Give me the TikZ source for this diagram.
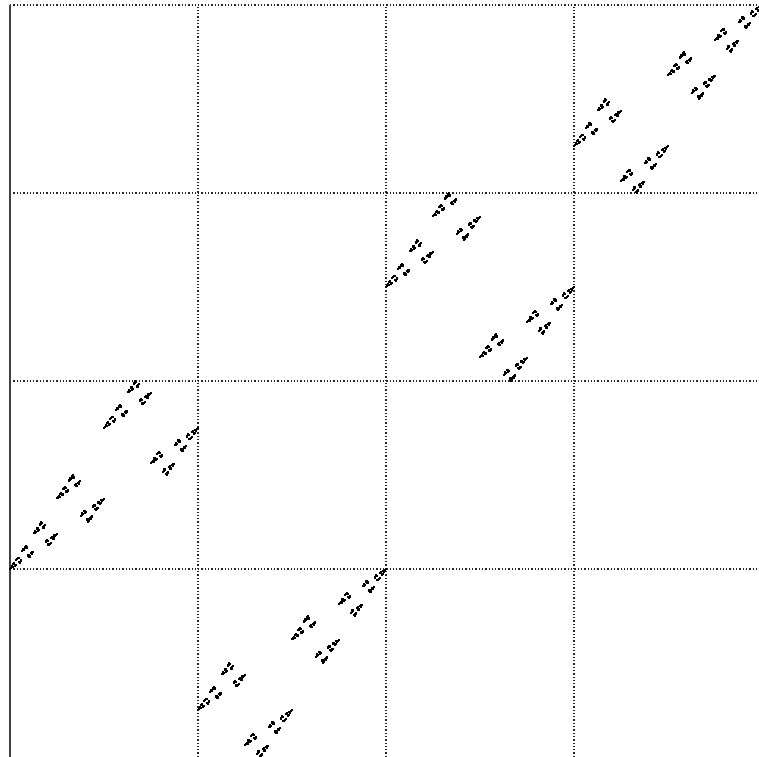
\documentclass[tikz,border=0pt]{standalone}
\tikzset{
  gridline/.style={line width=1.2pt, dash pattern=on 1.3pt off 2.0pt, draw=black!85},
  edgeline/.style={line width=1.6pt, draw=black!75},
  fractalmark/.style={fill=black}
}
\newcommand\frc[5]{% state, x, y, size, depth
  \ifnum#5=0\relax
    \fill[fractalmark] (#2+#4/2-1.1,#3+#4/2-1.1) rectangle ++(2.2,2.2);%
  \else
    \begingroup
    \pgfmathsetmacro\frs{#4/4}%
    \pgfmathtruncatemacro\frd{#5-1}%
    \ifcase#1\relax
      \frch{1}{#2}{#3}{0}{1}\frch{0}{#2}{#3}{1}{0}\frch{2}{#2}{#3}{2}{2}\frch{0}{#2}{#3}{3}{3}%
    \or
      \frch{1}{#2}{#3}{0}{0}\frch{2}{#2}{#3}{1}{1}\frch{1}{#2}{#3}{2}{3}\frch{0}{#2}{#3}{3}{2}%
    \or
      \frch{1}{#2}{#3}{0}{2}\frch{2}{#2}{#3}{1}{3}\frch{2}{#2}{#3}{2}{0}\frch{0}{#2}{#3}{3}{1}%
    \fi
    \endgroup
  \fi}
\newcommand\frch[5]{% state, px, py, col, row
  \begingroup
  \pgfmathsetmacro\frx{#2+#4*\frs}%
  \pgfmathsetmacro\fry{#3+#5*\frs}%
  \edef\frnext{\noexpand\frc{#1}{\frx}{\fry}{\frs}{\frd}}%
  \frnext
  \endgroup}
\begin{document}
\begin{tikzpicture}[x=1pt,y=1pt]
  \useasboundingbox (0,0) rectangle (759,756);
  \begin{scope}
    \clip (0,0) rectangle (759,756);
    % dotted grid
    \foreach \gx in {198,386,574} {
      \draw[gridline] (\gx,-1) -- (\gx,751);
    }
    \foreach \gy in {187,375,563,751} {
      \draw[gridline] (10,\gy) -- (762,\gy);
    }
    % solid left edge
    \draw[edgeline] (10,-1) -- (10,751);
    % fractal
    \frc{0}{10}{-1}{752}{5}
  \end{scope}
\end{tikzpicture}
\end{document}
